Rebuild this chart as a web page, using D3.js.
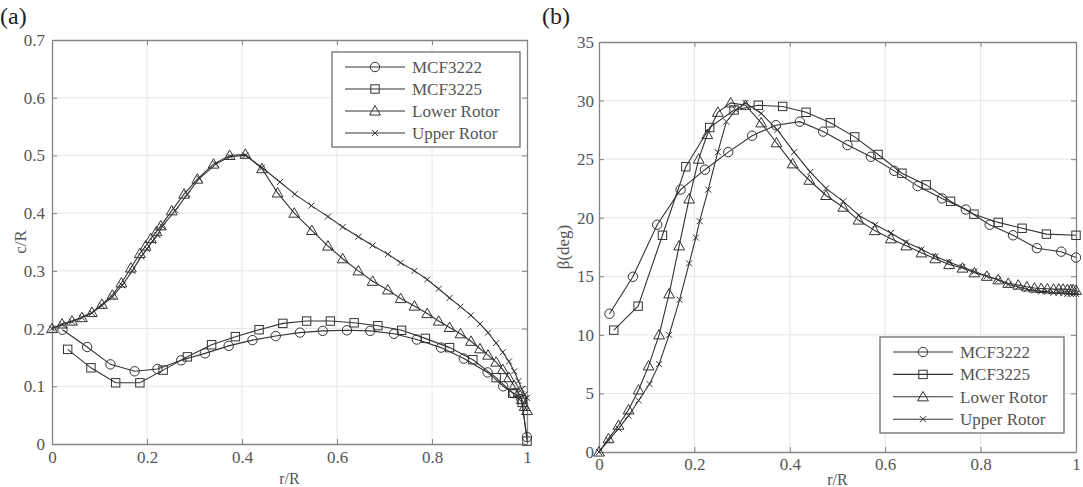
<!DOCTYPE html>
<html><head><meta charset="utf-8">
<script src="https://cdn.jsdelivr.net/npm/d3@7"></script>
<style>
html,body{margin:0;padding:0;background:#fff;}
svg{display:block;}
svg text{font-family:"Liberation Serif","Times New Roman",serif !important;}
</style></head>
<body>
<svg id="chart" width="1083" height="487"></svg>
<script>
// ---------- Data ----------
const seriesNames = ["MCF3222", "MCF3225", "Lower Rotor", "Upper Rotor"];
const markerTypes = ["circle", "square", "triangle", "cross"];

const xTicks = [0, 0.2, 0.4, 0.6, 0.8, 1];
const xTickLabels = ["0", "0.2", "0.4", "0.6", "0.8", "1"];
const yTicksA = [0, 0.1, 0.2, 0.3, 0.4, 0.5, 0.6, 0.7];
const yTickLabelsA = ["0", "0.1", "0.2", "0.3", "0.4", "0.5", "0.6", "0.7"];
const yTicksB = [0, 5, 10, 15, 20, 25, 30, 35];
const yTickLabelsB = ["0", "5", "10", "15", "20", "25", "30", "35"];

// (a) chord c/R vs r/R
const chordMCF3222 = [[0.022,0.198],[0.074,0.168],[0.123,0.138],[0.174,0.126],[0.222,0.130],[0.272,0.145],[0.322,0.157],[0.372,0.170],[0.422,0.180],[0.471,0.187],[0.522,0.193],[0.570,0.196],[0.621,0.197],[0.670,0.196],[0.720,0.191],[0.768,0.181],[0.819,0.167],[0.867,0.148],[0.917,0.124],[0.950,0.100],[0.972,0.088],[0.988,0.078],[1.0,0.012]];
const chordMCF3225 = [[0.033,0.164],[0.082,0.132],[0.134,0.106],[0.185,0.106],[0.234,0.128],[0.285,0.151],[0.336,0.172],[0.386,0.186],[0.436,0.198],[0.486,0.209],[0.536,0.213],[0.586,0.213],[0.636,0.210],[0.686,0.205],[0.736,0.197],[0.786,0.183],[0.837,0.167],[0.886,0.146],[0.935,0.115],[0.970,0.088],[0.990,0.072],[1.0,0.005]];
const chordLower = [[0,0.200],[0.021,0.208],[0.042,0.213],[0.063,0.219],[0.084,0.228],[0.105,0.242],[0.127,0.258],[0.146,0.279],[0.166,0.305],[0.185,0.330],[0.197,0.343],[0.208,0.356],[0.220,0.368],[0.229,0.378],[0.252,0.404],[0.278,0.433],[0.306,0.459],[0.340,0.485],[0.374,0.500],[0.407,0.502],[0.442,0.477],[0.475,0.435],[0.510,0.400],[0.547,0.370],[0.581,0.343],[0.612,0.321],[0.645,0.300],[0.675,0.282],[0.707,0.267],[0.734,0.252],[0.763,0.239],[0.790,0.226],[0.814,0.213],[0.837,0.202],[0.860,0.191],[0.882,0.178],[0.901,0.165],[0.918,0.154],[0.935,0.142],[0.949,0.129],[0.962,0.115],[0.973,0.101],[0.982,0.089],[0.989,0.077],[0.995,0.065],[1.0,0.058]];
const chordUpper = [[0,0.200],[0.021,0.207],[0.042,0.212],[0.063,0.219],[0.084,0.227],[0.105,0.240],[0.127,0.255],[0.148,0.275],[0.169,0.300],[0.188,0.325],[0.200,0.338],[0.212,0.352],[0.222,0.362],[0.232,0.377],[0.260,0.405],[0.285,0.433],[0.310,0.460],[0.345,0.485],[0.375,0.498],[0.407,0.500],[0.442,0.479],[0.480,0.454],[0.511,0.433],[0.546,0.413],[0.581,0.394],[0.612,0.376],[0.645,0.359],[0.675,0.344],[0.707,0.329],[0.734,0.314],[0.763,0.300],[0.790,0.285],[0.814,0.269],[0.837,0.253],[0.860,0.238],[0.882,0.223],[0.901,0.208],[0.918,0.193],[0.935,0.175],[0.949,0.159],[0.962,0.143],[0.973,0.126],[0.982,0.109],[0.989,0.095],[0.995,0.086],[1.0,0.080]];

// (b) twist beta (deg) vs r/R
const twistMCF3222 = [[0.022,11.8],[0.071,14.96],[0.122,19.4],[0.171,22.4],[0.222,24.1],[0.271,25.6],[0.321,27.0],[0.371,27.9],[0.421,28.2],[0.470,27.35],[0.521,26.2],[0.570,25.2],[0.619,24.0],[0.668,22.7],[0.719,21.65],[0.769,20.7],[0.819,19.4],[0.868,18.5],[0.918,17.4],[0.969,17.1],[1.0,16.6]];
const twistMCF3225 = [[0.031,10.4],[0.082,12.45],[0.133,18.5],[0.182,24.35],[0.232,27.7],[0.283,29.2],[0.334,29.6],[0.385,29.5],[0.434,29.0],[0.485,28.1],[0.536,26.9],[0.585,25.4],[0.635,23.8],[0.686,22.8],[0.737,21.4],[0.786,20.3],[0.837,19.6],[0.887,19.1],[0.938,18.6],[1.0,18.5]];
const twistLower = [[0,0],[0.020,1.14],[0.041,2.28],[0.062,3.6],[0.083,5.3],[0.104,7.35],[0.126,10.0],[0.147,13.5],[0.168,17.6],[0.189,21.6],[0.209,25.0],[0.227,27.1],[0.249,29.0],[0.276,29.8],[0.307,29.6],[0.340,28.1],[0.372,26.4],[0.406,24.6],[0.441,23.2],[0.476,21.9],[0.512,20.9],[0.544,19.8],[0.578,18.9],[0.612,18.2],[0.644,17.6],[0.676,17.0],[0.705,16.5],[0.734,16.0],[0.762,15.7],[0.787,15.3],[0.813,15.0],[0.837,14.7],[0.858,14.4],[0.879,14.25],[0.897,14.1],[0.913,14.0],[0.927,13.96],[0.940,13.93],[0.953,13.9],[0.964,13.9],[0.973,13.9],[0.982,13.87],[0.989,13.85],[0.994,13.85],[1.0,13.8]];
const twistUpper = [[0,0],[0.020,1.0],[0.041,2.0],[0.062,3.1],[0.083,4.4],[0.106,5.8],[0.126,7.5],[0.147,10.0],[0.169,13.0],[0.189,16.1],[0.203,18.3],[0.211,19.7],[0.229,22.4],[0.249,25.6],[0.267,28.2],[0.287,29.2],[0.307,29.8],[0.340,28.9],[0.374,27.5],[0.409,25.6],[0.443,23.9],[0.476,22.5],[0.512,21.4],[0.545,20.2],[0.579,19.4],[0.612,18.7],[0.644,17.9],[0.676,17.3],[0.705,16.7],[0.734,16.2],[0.762,15.8],[0.787,15.4],[0.813,15.0],[0.837,14.7],[0.858,14.3],[0.879,14.1],[0.897,13.9],[0.913,13.8],[0.927,13.7],[0.940,13.7],[0.953,13.6],[0.964,13.6],[0.973,13.55],[0.982,13.5],[0.989,13.5],[0.994,13.5],[1.0,13.5]];

// ---------- Drawing ----------
const svg = d3.select("#chart");
const LINE = "#333333";
const AXIS = "#858585";
const GRID = "#e6e6e6";
const TXT = "#555555";

function drawMarker(g, type, x, y) {
  if (type === "circle") {
    g.append("circle").attr("cx", x).attr("cy", y).attr("r", 4.7)
      .attr("fill", "none").attr("stroke", LINE).attr("stroke-width", 1);
  } else if (type === "square") {
    g.append("rect").attr("x", x - 4.2).attr("y", y - 4.2).attr("width", 8.4).attr("height", 8.4)
      .attr("fill", "none").attr("stroke", LINE).attr("stroke-width", 1);
  } else if (type === "triangle") {
    const s = 5.4;
    g.append("path").attr("d", `M${x},${y - s}L${x + s},${y + s * 0.75}L${x - s},${y + s * 0.75}Z`)
      .attr("fill", "none").attr("stroke", LINE).attr("stroke-width", 1);
  } else {
    const s = 3;
    g.append("path").attr("d", `M${x - s},${y - s}L${x + s},${y + s}M${x - s},${y + s}L${x + s},${y - s}`)
      .attr("fill", "none").attr("stroke", LINE).attr("stroke-width", 1);
  }
}

function panel(cfg) {
  const x = d3.scaleLinear().domain([0, 1]).range([cfg.x0, cfg.x1]);
  const y = d3.scaleLinear().domain(cfg.yDomain).range([cfg.y0, cfg.y1]);
  const g = svg.append("g");

  // grid
  g.append("g").selectAll("line").data(xTicks.slice(1, -1)).join("line")
    .attr("x1", d => x(d)).attr("x2", d => x(d)).attr("y1", cfg.y0).attr("y2", cfg.y1)
    .attr("stroke", GRID).attr("stroke-width", 1);
  g.append("g").selectAll("line").data(cfg.yTicks.slice(1, -1)).join("line")
    .attr("y1", d => y(d)).attr("y2", d => y(d)).attr("x1", cfg.x0).attr("x2", cfg.x1)
    .attr("stroke", GRID).attr("stroke-width", 1);

  // axes (MATLAB style, inward ticks on all sides)
  const tk = 5;
  const axB = g.append("g").attr("transform", `translate(0,${cfg.y0})`)
    .call(d3.axisBottom(x).tickValues(xTicks).tickFormat((d, i) => xTickLabels[i]).tickSizeInner(-tk).tickSizeOuter(0).tickPadding(cfg.xPad));
  const axT = g.append("g").attr("transform", `translate(0,${cfg.y1})`)
    .call(d3.axisTop(x).tickValues(xTicks).tickFormat("").tickSizeInner(-tk).tickSizeOuter(0));
  const axL = g.append("g").attr("transform", `translate(${cfg.x0},0)`)
    .call(d3.axisLeft(y).tickValues(cfg.yTicks).tickFormat((d, i) => cfg.yLabels[i]).tickSizeInner(-tk).tickSizeOuter(0).tickPadding(cfg.yPad));
  const axR = g.append("g").attr("transform", `translate(${cfg.x1},0)`)
    .call(d3.axisRight(y).tickValues(cfg.yTicks).tickFormat("").tickSizeInner(-tk).tickSizeOuter(0));
  [axB, axT, axL, axR].forEach(a => {
    a.attr("font-family", null);
    a.select(".domain").attr("stroke", AXIS).attr("stroke-width", 1.3);
    a.selectAll(".tick line").attr("stroke", AXIS);
    a.selectAll("text").attr("fill", TXT).attr("font-size", 17);
  });

  // series
  const line = d3.line().x(d => x(d[0])).y(d => y(d[1]));
  cfg.series.forEach((data, i) => {
    const sg = g.append("g");
    sg.append("path").attr("d", line(data)).attr("fill", "none").attr("stroke", LINE).attr("stroke-width", 1.1);
    data.forEach(d => drawMarker(sg, markerTypes[i], x(d[0]), y(d[1])));
  });

  // legend
  const L = cfg.legend;
  const lg = g.append("g");
  lg.append("rect").attr("x", L.x).attr("y", L.y).attr("width", L.w).attr("height", L.h)
    .attr("fill", "#fff").attr("stroke", "#6e6e6e").attr("stroke-width", 1.3);
  seriesNames.forEach((name, i) => {
    const yy = L.y + L.first + i * L.step;
    lg.append("line").attr("x1", L.x + 13).attr("x2", L.x + 73).attr("y1", yy).attr("y2", yy)
      .attr("stroke", LINE).attr("stroke-width", 1.1);
    drawMarker(lg, markerTypes[i], L.x + 43, yy);
    lg.append("text").attr("x", L.x + 80).attr("y", yy).attr("dy", "0.35em")
      .attr("font-size", 17).attr("fill", TXT).text(name);
  });

  // titles
  g.append("text").attr("x", cfg.panelX).attr("y", 24).attr("font-size", 24).attr("fill", "#222").text(cfg.panel);
  g.append("text").attr("transform", `translate(${cfg.yTitleX},${(cfg.y0 + cfg.y1) / 2}) rotate(-90)`)
    .attr("text-anchor", "middle").attr("font-size", 17).attr("fill", TXT).text(cfg.yTitle);
  g.append("text").attr("x", (cfg.x0 + cfg.x1) / 2).attr("y", cfg.xTitleY).attr("text-anchor", "middle")
    .attr("font-size", 16).attr("fill", TXT).text("r/R");
}

panel({
  x0: 52, x1: 527, y0: 444, y1: 40, yDomain: [0, 0.7],
  yTicks: yTicksA, yLabels: yTickLabelsA, xPad: 7, yPad: 7,
  series: [chordMCF3222, chordMCF3225, chordLower, chordUpper],
  legend: { x: 332, y: 52, w: 188, h: 95, first: 15, step: 22 },
  panel: "(a)", panelX: 0, yTitle: "c/R", yTitleX: 26, xTitleY: 484
});

panel({
  x0: 599, x1: 1076, y0: 452, y1: 42, yDomain: [0, 35],
  yTicks: yTicksB, yLabels: yTickLabelsB, xPad: 6, yPad: 5,
  series: [twistMCF3222, twistMCF3225, twistLower, twistUpper],
  legend: { x: 880, y: 337, w: 184, h: 96, first: 15, step: 22.4 },
  panel: "(b)", panelX: 542, yTitle: "β(deg)", yTitleX: 569, xTitleY: 485
});
</script>
</body></html>
